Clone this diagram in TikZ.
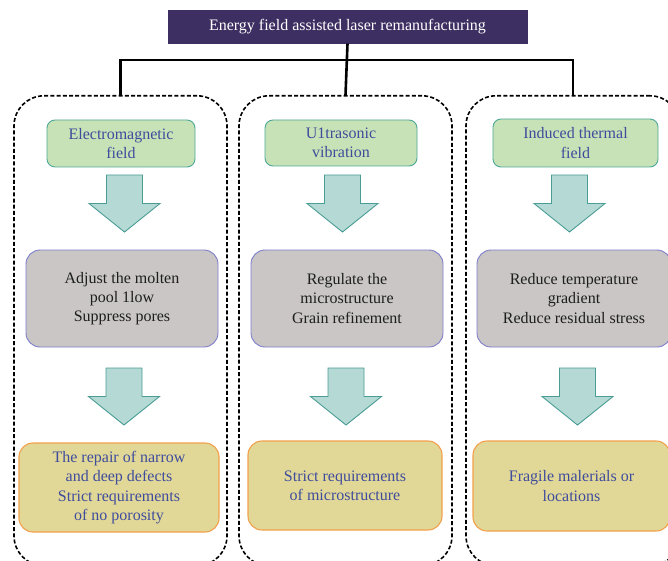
\documentclass[tikz,border=0pt]{standalone}
\usepackage{fontspec}
\setmainfont{Liberation Serif}
\begin{document}
\begin{tikzpicture}[x=1pt,y=-1pt,
  every node/.style={font=\fontsize{16}{19.3}\selectfont, align=center, inner sep=2pt},
  title/.style={fill=titlefill, draw=titlefill, text=white, minimum width=359pt, minimum height=33pt},
  column/.style={draw=black, line width=1.6pt, dash pattern=on 4pt off 2.2pt, rounded corners=30pt},
  fieldbox/.style={fill=greenfill, draw=greenline, line width=0.9pt, rounded corners=8pt, text=bluetext},
  effectbox/.style={fill=grayfill, draw=grayline, line width=0.9pt, rounded corners=14pt, text=darktext},
  usebox/.style={fill=orangefill, draw=orangeline, line width=1.1pt, rounded corners=14pt, text=bluetext},
  trunk/.style={line width=2.6pt, black},
  blockarrow/.style={fill=arrowfill, draw=arrowline, line width=0.9pt, line join=miter}
]
\definecolor{titlefill}{HTML}{3D2F62}
\definecolor{greenfill}{HTML}{C6E2B6}
\definecolor{greenline}{HTML}{4DA898}
\definecolor{bluetext}{HTML}{3F4C9C}
\definecolor{grayfill}{HTML}{C9C6C5}
\definecolor{grayline}{HTML}{7E7ECC}
\definecolor{darktext}{HTML}{1E1E1E}
\definecolor{orangefill}{HTML}{E1D898}
\definecolor{orangeline}{HTML}{F2A04C}
\definecolor{arrowfill}{HTML}{B5D9D4}
\definecolor{arrowline}{HTML}{4A9D95}
\useasboundingbox (0,0) rectangle (668,561);
\fill[white] (0,0) rectangle (668,561);

% dashed columns
\node[column, minimum width=213pt, minimum height=470pt, anchor=north] (colL) at (120.5,95) {};
\node[column, minimum width=213pt, minimum height=470pt, anchor=north] (colM) at (345.5,95) {};
\node[column, minimum width=214pt, minimum height=470pt, anchor=north] (colR) at (573,95) {};

% title
\node[title] (title) at (347.5,27) {Energy field assisted laser remanufacturing};
\coordinate (junc) at (347.5,60);
\draw[trunk] (title.south) -- (colM.north);
\draw[trunk] (colL.north) -- (colL.north |- junc) -- (colR.north |- junc) -- (colR.north);

% field boxes
\node[fieldbox, minimum width=148pt, minimum height=47pt] (fL) at (121,143.5) {Electromagnetic\\field};
\node[fieldbox, minimum width=152pt, minimum height=46pt] (fM) at (341,143) {U1trasonic\\vibration};
\node[fieldbox, minimum width=165pt, minimum height=48pt] (fR) at (575.5,143) {Induced thermal\\field};

% effect boxes
\node[effectbox, minimum width=192pt, minimum height=97pt] (eL) at (122,298.5) {Adjust the molten\\pool 1low\\Suppress pores};
\node[effectbox, minimum width=192pt, minimum height=97pt] (eM) at (347,298.5) {Regulate the\\microstructure\\Grain refinement};
\node[effectbox, minimum width=194pt, minimum height=97pt] (eR) at (574,298.5) {Reduce temperature\\gradient\\Reduce residual stress};

% application boxes
\node[usebox, minimum width=200pt, minimum height=89pt] (uL) at (119,487.5) {The repair of narrow\\and deep defects\\Strict requirements\\of no porosity};
\node[usebox, minimum width=194pt, minimum height=89pt] (uM) at (345,485.5) {Strict requirements\\of microstructure};
\node[usebox, minimum width=197pt, minimum height=90pt] (uR) at (571.5,486) {Fragile malerials or\\locations};

% block arrows
\newcommand\blockdown[3]{% centre x, top y, name
  \coordinate (#3) at (#1,#2);
  \draw[blockarrow] ([xshift=-18pt]#3) -- ([xshift=18pt]#3) -- ([xshift=18pt,yshift=-28.5pt]#3)
    -- ([xshift=35.5pt,yshift=-28.5pt]#3) -- ([yshift=-57pt]#3) -- ([xshift=-35.5pt,yshift=-28.5pt]#3)
    -- ([xshift=-18pt,yshift=-28.5pt]#3) -- cycle;}
\blockdown{124.5}{175}{aL1}
\blockdown{342.5}{175}{aM1}
\blockdown{569.5}{175}{aR1}
\blockdown{124}{368}{aL2}
\blockdown{346}{368}{aM2}
\blockdown{577.5}{368}{aR2}
\end{tikzpicture}
\end{document}
